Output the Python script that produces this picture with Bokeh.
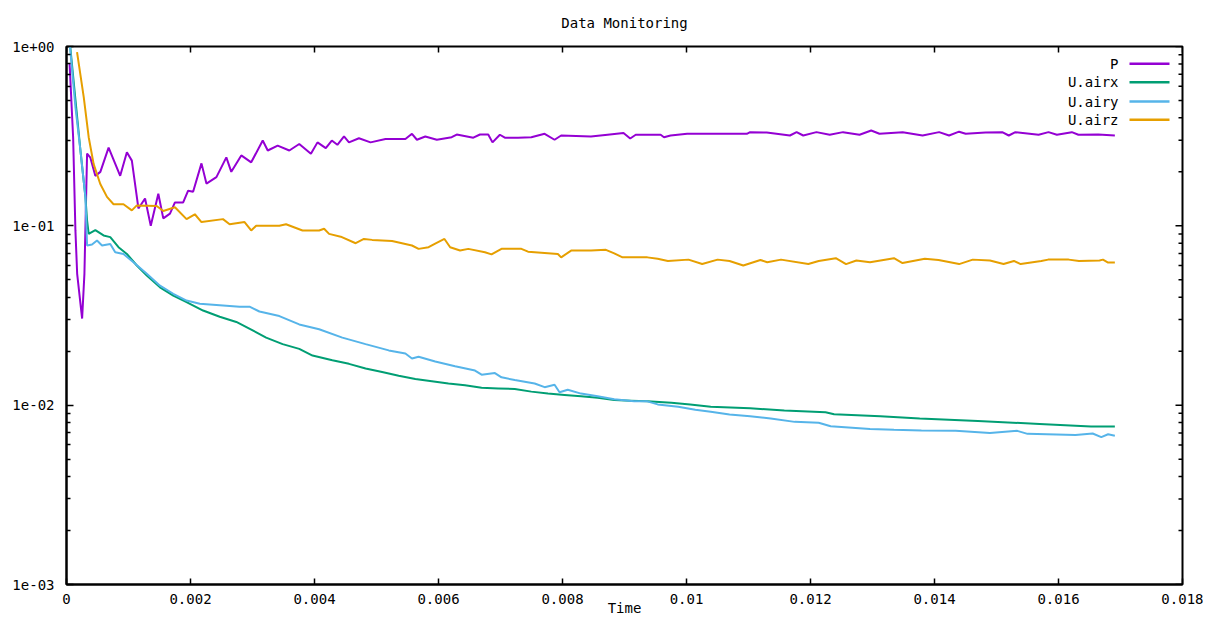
from bokeh.plotting import figure
from bokeh.models import Range1d, FixedTicker, CustomJSTickFormatter, Label, BoxAnnotation
from bokeh.embed import file_html
from bokeh.resources import INLINE

# ---------------- data ----------------
TITLE = "Data Monitoring"
X_LABEL = "Time"
SERIES_NAMES = ["P", "U.airx", "U.airy", "U.airz"]
X_TICKS = [0.0, 0.002, 0.004, 0.006, 0.008, 0.010, 0.012, 0.014, 0.016, 0.018]
Y_TICKS = [0.001, 0.01, 0.1, 1.0]

P_t = [0.00005, 0.000107, 0.000144, 0.000172, 0.000252, 0.000289, 0.000332, 0.000385,
       0.000465, 0.000546, 0.000679, 0.000866, 0.000974, 0.001054, 0.00116, 0.001267,
       0.001359, 0.001481, 0.001561, 0.001669, 0.001749, 0.001882, 0.001962, 0.002042,
       0.002177, 0.002257, 0.002418, 0.002578, 0.002658, 0.002819, 0.002979, 0.003165,
       0.003246, 0.003406, 0.003594, 0.003754, 0.003942, 0.004048, 0.004182, 0.004279,
       0.004369, 0.004476, 0.004556, 0.004717, 0.004904, 0.005145, 0.005466, 0.005572,
       0.005652, 0.005787, 0.005973, 0.006213, 0.006294, 0.006562, 0.006669, 0.006802,
       0.006871, 0.00699, 0.00707, 0.007283, 0.007497, 0.007712, 0.007872, 0.007978,
       0.008459, 0.008727, 0.008984, 0.009092, 0.009181, 0.009583, 0.009637, 0.009743,
       0.010011, 0.010973, 0.011026, 0.011294, 0.011668, 0.011776, 0.011883, 0.012096,
       0.01231, 0.012525, 0.012791, 0.012979, 0.013112, 0.013487, 0.013808, 0.014075,
       0.014235, 0.014396, 0.014503, 0.014824, 0.015092, 0.015198, 0.015305, 0.015679,
       0.015839, 0.015974, 0.016215, 0.016321, 0.016642, 0.016909]
P_v = [0.80, 0.311, 0.094, 0.054, 0.0304, 0.054, 0.253, 0.24,
       0.19, 0.2, 0.273, 0.19, 0.257, 0.231, 0.125, 0.142,
       0.100, 0.151, 0.110, 0.117, 0.135, 0.135, 0.157, 0.155,
       0.223, 0.172, 0.187, 0.241, 0.200, 0.247, 0.226, 0.299,
       0.263, 0.280, 0.263, 0.286, 0.252, 0.292, 0.271, 0.299,
       0.283, 0.315, 0.292, 0.308, 0.292, 0.305, 0.305, 0.326,
       0.302, 0.315, 0.302, 0.312, 0.323, 0.310, 0.323, 0.323,
       0.292, 0.322, 0.310, 0.310, 0.312, 0.326, 0.302, 0.319,
       0.315, 0.322, 0.329, 0.307, 0.322, 0.322, 0.312, 0.319,
       0.326, 0.326, 0.333, 0.331, 0.319, 0.333, 0.319, 0.333,
       0.322, 0.333, 0.322, 0.340, 0.326, 0.333, 0.319, 0.333,
       0.319, 0.335, 0.326, 0.331, 0.333, 0.319, 0.333, 0.322,
       0.333, 0.322, 0.333, 0.322, 0.323, 0.319]

UX_t = [0.00006, 0.000225, 0.000305, 0.000332, 0.000358, 0.000465, 0.000598, 0.000706,
        0.000839, 0.000974, 0.001134, 0.001295, 0.001508, 0.001722, 0.001936, 0.002203,
        0.002471, 0.002739, 0.00298, 0.00322, 0.003486, 0.003754, 0.003968, 0.004288,
        0.004556, 0.004824, 0.005091, 0.005358, 0.005626, 0.005893, 0.00616, 0.006428,
        0.006695, 0.006963, 0.00723, 0.007497, 0.007765, 0.008033, 0.008299, 0.008567,
        0.008835, 0.009101, 0.009369, 0.009756, 0.010059, 0.010391, 0.011026, 0.011578,
        0.012243, 0.01238, 0.013126, 0.013762, 0.0147, 0.015695, 0.016524, 0.016909]
UX_v = [1.0, 0.263, 0.145, 0.107, 0.0902, 0.0947, 0.0884, 0.0865,
        0.0760, 0.0697, 0.0601, 0.0529, 0.0454, 0.0408, 0.0376, 0.0337,
        0.0311, 0.0291, 0.0264, 0.0238, 0.0219, 0.0206, 0.0189, 0.0178,
        0.0170, 0.0160, 0.0153, 0.0146, 0.0140, 0.0136, 0.0132, 0.0129,
        0.0125, 0.0124, 0.0123, 0.0119, 0.0116, 0.0114, 0.0112, 0.0110,
        0.0107, 0.0106, 0.0105, 0.0103, 0.0101, 0.00979, 0.00960, 0.00934,
        0.00914, 0.00890, 0.00868, 0.00842, 0.00815, 0.00786, 0.00760, 0.00760]

UY_t = [0.000056, 0.000144, 0.000225, 0.000305, 0.000332, 0.000412, 0.000492, 0.000573,
        0.000706, 0.000786, 0.000919, 0.00108, 0.001295, 0.001508, 0.001722, 0.001936,
        0.00215, 0.002471, 0.002792, 0.002952, 0.003112, 0.003433, 0.003754, 0.004075,
        0.004449, 0.004824, 0.005198, 0.005466, 0.005572, 0.005679, 0.005947, 0.006268,
        0.006589, 0.006695, 0.00691, 0.007016, 0.00723, 0.007551, 0.007712, 0.007872,
        0.007952, 0.008085, 0.008299, 0.008567, 0.008835, 0.009156, 0.009369, 0.009535,
        0.009866, 0.010142, 0.010391, 0.010694, 0.011026, 0.011358, 0.011745, 0.012132,
        0.012325, 0.01296, 0.013346, 0.013789, 0.014341, 0.014894, 0.015335, 0.015501,
        0.016274, 0.016551, 0.01669, 0.0168, 0.016909]
UY_v = [1.0, 0.459, 0.263, 0.145, 0.0777, 0.0787, 0.0828, 0.0777,
        0.0793, 0.0713, 0.0697, 0.0627, 0.0540, 0.0464, 0.0418, 0.0383,
        0.0368, 0.0361, 0.0354, 0.0354, 0.0333, 0.0314, 0.0282, 0.0265,
        0.0238, 0.0219, 0.0202, 0.0194, 0.0182, 0.0186, 0.0175, 0.0165,
        0.0156, 0.0148, 0.0151, 0.0143, 0.0138, 0.0132, 0.0126, 0.0130,
        0.0118, 0.0122, 0.0116, 0.0112, 0.0108, 0.0105, 0.0105, 0.0101,
        0.00981, 0.00942, 0.00920, 0.00888, 0.00868, 0.00842, 0.00807, 0.00798,
        0.00763, 0.00736, 0.00729, 0.00722, 0.00719, 0.00699, 0.00719, 0.00692,
        0.00682, 0.00695, 0.00664, 0.00688, 0.00675]

UZ_t = [0.00017, 0.000278, 0.000358, 0.000438, 0.000545, 0.000653, 0.000759, 0.000919,
        0.001054, 0.001134, 0.001455, 0.001561, 0.001749, 0.001936, 0.00207, 0.002177,
        0.002524, 0.002631, 0.002872, 0.002979, 0.003059, 0.003433, 0.003541, 0.003807,
        0.004075, 0.004155, 0.004235, 0.004423, 0.004664, 0.004797, 0.00493, 0.005251,
        0.005572, 0.005679, 0.00584, 0.005947, 0.006096, 0.006188, 0.006348, 0.006481,
        0.006749, 0.006855, 0.007016, 0.007337, 0.007444, 0.007925, 0.007978, 0.008139,
        0.00846, 0.0087, 0.008835, 0.008968, 0.009369, 0.009535, 0.0097, 0.010032,
        0.010253, 0.010502, 0.010694, 0.010916, 0.011192, 0.011302, 0.011524, 0.011965,
        0.012132, 0.012408, 0.012573, 0.01274, 0.01296, 0.013346, 0.013484, 0.013844,
        0.014065, 0.014397, 0.014617, 0.014894, 0.015114, 0.015281, 0.01539, 0.015722,
        0.015833, 0.016165, 0.01633, 0.016661, 0.016717, 0.0168, 0.016909]
UZ_v = [0.93, 0.522, 0.312, 0.221, 0.171, 0.145, 0.132, 0.132,
        0.122, 0.130, 0.129, 0.121, 0.127, 0.109, 0.116, 0.105,
        0.109, 0.102, 0.105, 0.0942, 0.100, 0.100, 0.102, 0.0942,
        0.0942, 0.0963, 0.0902, 0.0870, 0.0800, 0.0845, 0.0835, 0.0822,
        0.0777, 0.0744, 0.0760, 0.0796, 0.0845, 0.0760, 0.0728, 0.0744,
        0.0713, 0.0693, 0.0744, 0.0744, 0.0718, 0.0697, 0.0667, 0.0728,
        0.0728, 0.0735, 0.0702, 0.0667, 0.0667, 0.0655, 0.0637, 0.0648,
        0.0612, 0.0648, 0.0637, 0.0601, 0.0645, 0.0627, 0.0648, 0.0612,
        0.0637, 0.0660, 0.0612, 0.0641, 0.0627, 0.0660, 0.0620, 0.0655,
        0.0645, 0.0612, 0.0648, 0.0641, 0.0612, 0.0637, 0.0612, 0.0637,
        0.0648, 0.0648, 0.0637, 0.0641, 0.0648, 0.0624, 0.0624]

COLORS = ["#9400d3", "#009e73", "#56b4e9", "#e69f00"]

# ---------------- figure ----------------
FONT = "DejaVu Sans Mono"
FS = "14px"
W, H = 1203, 621
LEFT, TOP = 66, 46
FRAME_W, FRAME_H = 1116, 538
X0, X1 = 0.0, 0.018
Y0, Y1 = 1e-3, 1.0

p = figure(width=W, height=H, y_axis_type="log",
           x_range=Range1d(X0, X1), y_range=Range1d(Y0, Y1),
           output_backend="svg", toolbar_location=None, title=TITLE,
           min_border_left=LEFT, min_border_right=W - LEFT - FRAME_W,
           min_border_top=TOP, min_border_bottom=H - TOP - FRAME_H)
p.title.align = "center"
p.title.vertical_align = "top"
p.title.text_font = FONT
p.title.text_font_size = FS
p.title.text_font_style = "normal"
p.title.text_color = "black"
p.title.standoff = 28
p.xgrid.visible = False
p.ygrid.visible = False
p.outline_line_color = "black"
p.outline_line_width = 2
p.outline_line_alpha = 1.0
p.background_fill_color = "white"
p.border_fill_color = "white"

series = [(P_t, P_v), (UX_t, UX_v), (UY_t, UY_v), (UZ_t, UZ_v)]
for (t, v), c in zip(series, COLORS):
    p.line(t, v, line_color=c, line_width=2)

minor_y = [m * 10.0 ** e for e in (-3, -2, -1) for m in range(2, 10)]
yticker = FixedTicker(ticks=Y_TICKS, minor_ticks=minor_y)
xticker = FixedTicker(ticks=X_TICKS)

yfmt = CustomJSTickFormatter(code="""
const e = Math.round(Math.log10(tick));
const s = e < 0 ? '-' : '+';
return '1e' + s + String(Math.abs(e)).padStart(2, '0');
""")
xfmt = CustomJSTickFormatter(code="""
if (Math.abs(tick) < 1e-12) return '0';
return String(parseFloat(tick.toFixed(4)));
""")


def style(ax, tin, mtin):
    ax.axis_line_color = "black"
    ax.axis_line_width = 2
    ax.major_tick_in = tin
    ax.major_tick_out = 0
    ax.major_tick_line_color = "black"
    ax.major_tick_line_width = 1.5
    ax.minor_tick_in = mtin
    ax.minor_tick_out = 0
    ax.minor_tick_line_color = "black"
    ax.minor_tick_line_width = 1.5
    ax.major_label_text_font = FONT
    ax.major_label_text_font_size = FS
    ax.major_label_text_color = "black"


xa = p.xaxis[0]
xa.ticker = xticker
xa.formatter = xfmt
style(xa, 6, 0)
xa.minor_tick_line_color = None
xa.major_label_standoff = 9
xa.axis_label = X_LABEL
xa.axis_label_text_font = FONT
xa.axis_label_text_font_size = FS
xa.axis_label_text_font_style = "normal"
xa.axis_label_text_color = "black"
xa.axis_label_standoff = -7

ya = p.yaxis[0]
ya.ticker = yticker
ya.formatter = yfmt
style(ya, 7, 4)
ya.major_label_standoff = 12

# mirrored inward ticks on the top and right borders (gnuplot "mirror")
ypx = 10 ** (-3.0 / FRAME_H)               # one pixel, as a log-axis factor
xpx = (X1 - X0) / FRAME_W                  # one pixel in x units
p.segment(x0=X_TICKS, y0=[Y1] * len(X_TICKS), x1=X_TICKS,
          y1=[Y1 * ypx ** 6] * len(X_TICKS), line_color="black", line_width=1.5)
p.segment(x0=[X1] * len(Y_TICKS), y0=Y_TICKS, x1=[X1 - 7 * xpx] * len(Y_TICKS),
          y1=Y_TICKS, line_color="black", line_width=1.5)
p.segment(x0=[X1] * len(minor_y), y0=minor_y, x1=[X1 - 4 * xpx] * len(minor_y),
          y1=minor_y, line_color="black", line_width=1.5)

# ---------------- gnuplot-style key (text left, sample line right) ----------------
row_off = [17.3, 35.7, 55.0, 73.3]          # px below the frame top
for name, c, off in zip(SERIES_NAMES, COLORS, row_off):
    yy = FRAME_H - off
    p.add_layout(Label(x=1052, y=yy, x_units="screen", y_units="screen", text=name,
                       text_align="right", text_baseline="middle", text_font=FONT,
                       text_font_size=FS, text_color="black"))
    p.add_layout(BoxAnnotation(left=1063, right=1103, bottom=yy - 1.2, top=yy + 1.2,
                               left_units="screen", right_units="screen",
                               bottom_units="screen", top_units="screen",
                               fill_color=c, fill_alpha=1.0, line_color=None))

open("out.html", "w").write(file_html(p, INLINE))
